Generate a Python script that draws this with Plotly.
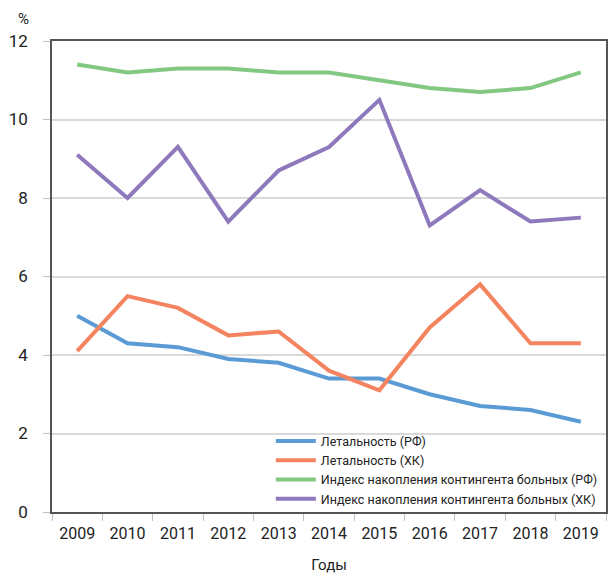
import plotly.graph_objects as go

years = ["2009", "2010", "2011", "2012", "2013", "2014", "2015", "2016", "2017", "2018", "2019"]
let_rf = [5.0, 4.3, 4.2, 3.9, 3.8, 3.4, 3.4, 3.0, 2.7, 2.6, 2.3]
let_hk = [4.1, 5.5, 5.2, 4.5, 4.6, 3.6, 3.1, 4.7, 5.8, 4.3, 4.3]
idx_rf = [11.4, 11.2, 11.3, 11.3, 11.2, 11.2, 11.0, 10.8, 10.7, 10.8, 11.2]
idx_hk = [9.1, 8.0, 9.3, 7.4, 8.7, 9.3, 10.5, 7.3, 8.2, 7.4, 7.5]

names = ["Летальность (РФ)", "Летальность (ХК)",
         "Индекс накопления контингента больных (РФ)",
         "Индекс накопления контингента больных (ХК)"]
series = [let_rf, let_hk, idx_rf, idx_hk]
colors = ["#5b9bd5", "#f4845f", "#82c882", "#8e79bd"]

FONT = "Roboto, Liberation Sans Narrow, sans-serif"

fig = go.Figure()
for n, s, c in zip(names, series, colors):
    fig.add_trace(go.Scatter(x=years, y=s, name=n, mode="lines",
                             line=dict(color=c, width=4)))

fig.update_layout(
    width=611, height=574,
    margin=dict(l=52, r=3, t=41, b=62),
    paper_bgcolor="white", plot_bgcolor="white",
    font=dict(family=FONT, color="#222222"),
    showlegend=True,
    legend=dict(x=0.395, y=0.182, xanchor="left", yanchor="top",
                bgcolor="rgba(0,0,0,0)", font=dict(size=12.5, family=FONT, color="#222"),
                tracegroupgap=0, itemwidth=40),
    xaxis=dict(type="category", range=[-0.5, 10.5], tickson="boundaries", ticks="outside",
               ticklen=7, tickcolor="#bfbfbf", showgrid=False, showline=True,
               linecolor="#555555", linewidth=1.5, mirror=True,
               tickfont=dict(size=16, family=FONT, color="#222"), ticklabelstandoff=6,
               title=dict(text="Годы", font=dict(size=15, family=FONT, color="#222"), standoff=18)),
    yaxis=dict(range=[0, 12], dtick=2, ticks="outside", ticklen=7, tickcolor="#bfbfbf",
               showgrid=True, gridcolor="#d9d9d9", gridwidth=1.5, zeroline=False,
               showline=True, linecolor="#555555", linewidth=1.5, mirror=True,
               tickfont=dict(size=17, family=FONT, color="#222"), ticklabelstandoff=12),
    annotations=[dict(text="%", xref="paper", yref="paper", x=-0.052, y=1.0, yshift=22,
                      xanchor="center", yanchor="middle", showarrow=False,
                      font=dict(size=15, family=FONT, color="#222"))],
)

fig.write_html("out.html")
